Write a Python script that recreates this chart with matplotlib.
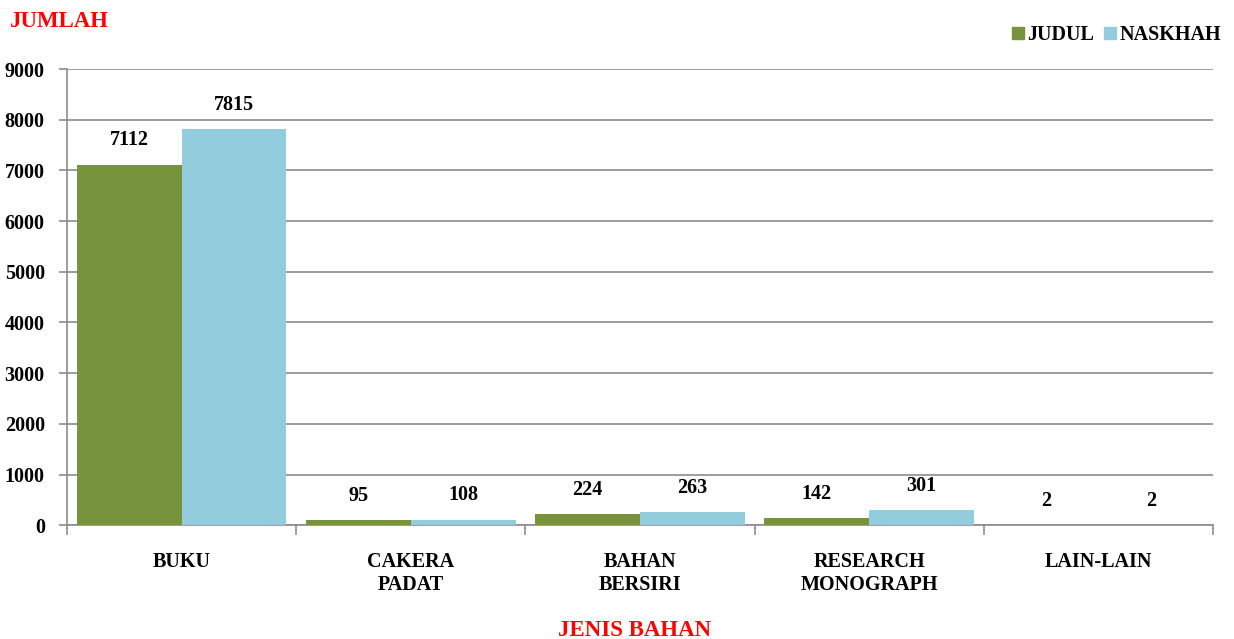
import numpy as np
import matplotlib.pyplot as plt
from matplotlib.patches import Patch

categories = ['BUKU', 'CAKERA\nPADAT', 'BAHAN\nBERSIRI', 'RESEARCH\nMONOGRAPH', 'LAIN-LAIN']
judul = [7112, 95, 224, 142, 2]
naskhah = [7815, 108, 263, 301, 2]
series_names = ['JUDUL', 'NASKHAH']

green = '#77933C'
blue = '#93CDDD'
grey = '#8C8C8C'

plt.rcParams['font.family'] = ['Liberation Serif', 'DejaVu Serif']
plt.rcParams['font.weight'] = 'bold'
fs = 14.5

fig = plt.figure(figsize=(12.34, 6.39), dpi=100)
ax = fig.add_axes([0.0543, 0.178, 0.9287, 0.714])

x = np.arange(len(categories))
w = 0.457
b1 = ax.bar(x - w / 2, judul, w, color=green, zorder=3)
b2 = ax.bar(x + w / 2, naskhah, w, color=blue, zorder=3)

for bars in (b1, b2):
    for r in bars:
        ax.annotate(str(int(r.get_height())),
                    (r.get_x() + r.get_width() / 2, r.get_height()),
                    xytext=(0, 17.5), textcoords='offset points',
                    ha='center', va='center', fontsize=fs, fontweight='bold')

ax.set_xlim(-0.5, len(categories) - 0.5)
ax.set_ylim(0, 9000)
ax.set_yticks(np.arange(0, 9001, 1000))
ax.yaxis.grid(True, color=grey, linewidth=1.2, zorder=0)

# category labels sit between the boundary ticks
ax.set_xticks(np.arange(-0.5, len(categories), 1.0))
ax.set_xticklabels([])
ax.set_xticks(x, minor=True)
ax.set_xticklabels(categories, minor=True, fontsize=fs, fontweight='bold',
                   linespacing=1.2)
ax.tick_params(axis='x', which='minor', length=0, pad=19)
ax.tick_params(axis='x', which='major', length=7, width=1.2, color=grey)
ax.tick_params(axis='y', length=6, width=1.2, color=grey, labelsize=fs, pad=10)
for lab in ax.get_yticklabels():
    lab.set_fontweight('bold')

for s in ['top', 'right']:
    ax.spines[s].set_visible(False)
for s in ['left', 'bottom']:
    ax.spines[s].set_color(grey)
    ax.spines[s].set_linewidth(1.2)

fig.text(0.008, 0.966, 'JUMLAH', color='red', fontsize=16.5, fontweight='bold',
         ha='left', va='center')
fig.text(0.514, 0.014, 'JENIS BAHAN', color='red', fontsize=16.5, fontweight='bold',
         ha='center', va='center')

handles = [Patch(color=green), Patch(color=blue)]
fig.legend(handles, series_names, loc='center right', bbox_to_anchor=(1.004, 0.945),
           frameon=False, ncol=2, handlelength=0.6, handleheight=0.6,
           handletextpad=0.15, columnspacing=0.5, prop={'weight': 'bold', 'size': fs})

fig.savefig('out.png', dpi=100)
